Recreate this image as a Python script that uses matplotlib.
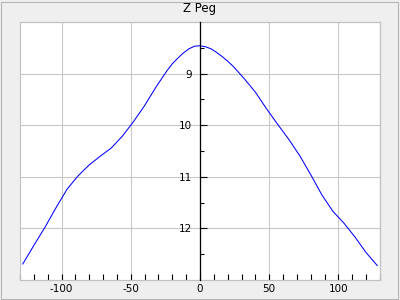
import numpy as np
import matplotlib
matplotlib.use('Agg')
import matplotlib.pyplot as plt
from matplotlib.patches import Rectangle
from matplotlib.ticker import MultipleLocator

# phase vs. magnitude
phase = [-128, -120, -112, -104, -96, -88, -80, -72, -64, -56, -48, -40, -32,
         -24, -20, -16, -12, -8, -4, 0, 4, 8, 12, 16, 20, 24, 32, 40, 48, 56,
         64, 72, 80, 88, 96, 104, 112, 120, 128]
mag = [12.69, 12.33, 11.98, 11.60, 11.24, 10.98, 10.77, 10.60, 10.44, 10.21,
       9.93, 9.62, 9.27, 8.95, 8.81, 8.70, 8.60, 8.52, 8.47, 8.46, 8.48, 8.52,
       8.59, 8.67, 8.76, 8.86, 9.10, 9.36, 9.68, 9.98, 10.27, 10.59, 10.96,
       11.35, 11.67, 11.90, 12.17, 12.47, 12.72]

title = 'Z Peg'
yticks = [9, 10, 11, 12]
xticks = [-100, -50, 0, 50, 100]

plt.rcParams['axes.unicode_minus'] = False
plt.rcParams['font.family'] = 'DejaVu Sans'

fig = plt.figure(figsize=(4, 3), dpi=100, facecolor='#efefef')
fig.patches.append(Rectangle((0.002, 0.003), 0.994, 0.992, transform=fig.transFigure,
                             fill=False, edgecolor='#b4b4b4', lw=0.75))
ax = fig.add_axes([0.05, 0.0667, 0.90, 0.86])
ax.set_facecolor('white')

ax.plot(phase, mag, color='#0000ff', lw=0.75, zorder=3)

ax.set_xlim(-130, 130)
ax.set_ylim(13, 8)

ax.set_xticks(xticks)
ax.xaxis.set_minor_locator(MultipleLocator(10))
ax.set_yticks(yticks)
ax.set_yticks([8.5, 9.5, 10.5, 11.5, 12.5], minor=True)

ax.grid(True, which='major', color='#c8c8c8', lw=0.8)
ax.set_axisbelow(True)

for s in ['top', 'right', 'bottom']:
    ax.spines[s].set_color('#c0c0c0')
    ax.spines[s].set_linewidth(0.8)
ax.add_patch(Rectangle((0, 0), 1, 1, transform=ax.transAxes, fill=False,
                       edgecolor='#c0c0c0', lw=0.8, clip_on=False, zorder=4))
ax.spines['left'].set_position(('data', 0))
ax.spines['left'].set_color('black')
ax.spines['left'].set_linewidth(0.9)
ax.spines['left'].set_zorder(5)

ax.tick_params(axis='x', which='both', direction='in', length=4, width=0.8,
               color='black', labelsize=7.5, pad=3)
ax.tick_params(axis='y', which='major', direction='in', length=5, width=0.8,
               color='black', labelsize=7.5, pad=5.5)
ax.tick_params(axis='y', which='minor', direction='in', length=3, width=0.8,
               color='black')

ax.set_title(title, fontsize=8.5, pad=7.5)

fig.savefig('out.png', dpi=100, facecolor=fig.get_facecolor())
